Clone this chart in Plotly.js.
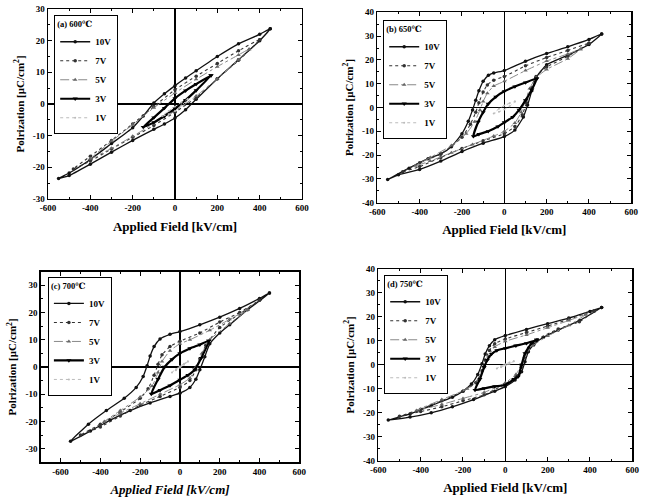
<!DOCTYPE html>
<html>
<head>
<meta charset="utf-8">
<script src="https://cdn.plot.ly/plotly-3.0.1.min.js"></script>
<style>html,body{margin:0;padding:0;background:#fff;}#chart{width:648px;height:501px;}</style>
</head>
<body>
<div id="chart"></div>
<script>
// ---------- tick labels ----------
const fieldTickVals = [-600, -400, -200, 0, 200, 400, 600];
const fieldTickText = ['-600', '-400', '-200', '0', '200', '400', '600'];
const pol30Vals = [-30, -20, -10, 0, 10, 20, 30];
const pol30Text = ['-30', '-20', '-10', '0', '10', '20', '30'];
const pol40Vals = [-40, -30, -20, -10, 0, 10, 20, 30, 40];
const pol40Text = ['-40', '-30', '-20', '-10', '0', '10', '20', '30', '40'];

const voltages = ['10V', '7V', '5V', '3V', '1V'];
const panelTitles = ['(a) 600℃', '(b) 650℃', '(c) 700℃', '(d) 750℃'];

// ---------- (a) 600 C : loop paths (field kV/cm, polarization uC/cm2) ----------
const a10E = [450,400,300,200,100,50,0,-50,-100,-150,-200,-300,-400,-500,-550,-500,-400,-300,-200,-100,-50,0,50,100,200,300,400,450];
const a10P = [23.8,22,19,15,10.5,8.2,5.8,3.2,0.3,-3.8,-7.5,-12.5,-17.5,-21.8,-23.5,-22.6,-19,-15.2,-11.5,-8,-6.3,-4.4,-1.8,1.5,8,14,20,23.8];
const a7E = [400,300,200,100,0,-100,-200,-300,-400,-480,-400,-300,-200,-100,0,100,200,300,400];
const a7P = [20.3,16.8,12.8,8.8,4.5,-0.8,-6.3,-11.5,-16.5,-20.5,-18,-14.2,-10.5,-6.8,-2.6,2,8,13.8,20.3];
const a5E = [350,300,200,100,0,-100,-200,-300,-400,-300,-200,-100,0,100,200,300,350];
const a5P = [17.3,15.5,11.8,7.8,3.5,-1.2,-6.5,-11.8,-17.3,-14,-10.2,-6.2,-2.2,2.5,8,14,17.3];
const a3E = [170,100,50,0,-50,-100,-150,-100,-50,0,50,100,170];
const a3P = [9,6.3,4.2,1.8,-1.3,-4.3,-7.3,-5.8,-3.8,-1.5,1.2,4.3,9];
const a1E = [60,30,0,-30,-60,-30,0,30,60];
const a1P = [1.5,0.5,-0.8,-2.2,-3.8,-3.2,-2.2,-0.5,1.5];

// ---------- (b) 650 C ----------
const b10E = [460,400,300,200,100,0,-50,-75,-100,-120,-135,-150,-170,-200,-250,-300,-360,-450,-551,-500,-400,-300,-200,-100,0,50,90,110,130,150,200,300,400,460];
const b10P = [30.9,28.6,25.5,22.7,19.4,15.5,14.5,13.5,11,7,3,-1,-5.8,-11,-16.5,-19.5,-21.5,-25.5,-30.3,-28.3,-26,-22.5,-18.5,-15,-12.2,-9.5,-4,1,7,12.5,18,22,26.5,30.9];
const b7E = [400,300,200,100,0,-50,-80,-100,-120,-135,-160,-200,-300,-400,-480,-400,-300,-200,-100,0,50,85,105,125,150,200,300,400];
const b7P = [27,24,21,17.5,13,11.5,9.5,6.5,2,-2,-7,-12.5,-19.5,-23.2,-27,-24.8,-21,-17.2,-14,-11,-8,-3,2,8,13,17,21.5,27];
const b5E = [360,300,200,100,0,-50,-80,-100,-115,-140,-180,-250,-350,-420,-350,-250,-150,-50,0,50,80,100,120,150,200,300,360];
const b5P = [24.5,22.5,19.5,15.5,11,9,6,2.5,-1,-6,-11,-16,-21,-24.5,-22.5,-19,-15.5,-12,-10,-6.5,-2,3,8,12.5,16,20.5,24.5];
const b3E = [153,100,50,0,-40,-76,-100,-123,-146,-120,-76,-30,0,40,70,100,130,153];
const b3P = [12.1,10.5,8.8,6.8,4.5,1.5,-2,-6,-12.1,-11.2,-10,-8,-6.3,-4,-1,3,7.5,12.1];
const b1E = [50,25,0,-25,-50,-25,0,25,50];
const b1P = [2.5,1.8,0.8,-0.5,-2.5,-1.8,-0.8,0.5,2.5];

// ---------- (c) 700 C ----------
const c10E = [450,400,300,200,100,0,-50,-100,-130,-150,-165,-185,-220,-280,-370,-460,-550,-450,-350,-250,-150,-50,0,50,80,100,125,150,200,250,340,450];
const c10P = [27.2,25.2,21.5,18.3,15.5,13,12,10.3,7.5,4,0.5,-3.5,-7.5,-11.5,-16,-21,-27.3,-23.5,-19.5,-16,-13.2,-10.8,-9.6,-7.5,-4.5,-1,3.8,8.5,12.5,15.5,21,27.2];
const c7E = [400,300,200,100,0,-50,-90,-110,-130,-160,-200,-300,-400,-500,-400,-300,-200,-100,0,50,80,100,130,200,300,400];
const c7P = [24.5,20,16.5,12.5,9.5,7.5,4.5,1,-3,-8,-11.5,-16.5,-21,-25,-22,-18,-14,-10.8,-7.5,-5,-1,3,8,14.5,19.5,24.5];
const c5E = [340,250,150,50,0,-50,-90,-110,-140,-200,-300,-380,-300,-200,-100,0,50,80,110,150,250,340];
const c5P = [21,17.5,13.5,10,8.5,6,2,-2,-7,-11,-16,-20,-17,-13.5,-10,-6.5,-4,0,5,10,16,21];
const c3E = [145,100,50,0,-40,-77,-110,-144,-100,-50,0,40,74,107,145];
const c3P = [9.6,8.2,6.8,5,2.8,0,-4.5,-9.9,-8.5,-6.8,-4.7,-3,-1,3.3,9.6];
const c1E = [40,20,0,-20,-40,-20,0,20,40];
const c1P = [2,1.2,0.3,-0.8,-2,-1.2,-0.3,0.8,2];

// ---------- (d) 750 C ----------
const d10E = [455,400,300,200,100,0,-50,-75,-95,-110,-130,-160,-200,-250,-350,-450,-553,-450,-350,-250,-150,-50,0,46,77,93,109,135,180,250,350,455];
const d10P = [23.9,22.3,19.5,17.2,14.8,12.2,10.5,8,4.5,0.5,-4,-8,-11,-13.5,-17,-20.5,-23,-21.8,-20,-17.5,-14.5,-11,-9.1,-6.3,-2.9,1.3,5.5,8.5,11.5,14.5,18.5,23.9];
const d7E = [420,300,200,100,0,-50,-75,-95,-110,-140,-200,-300,-400,-500,-400,-300,-200,-100,0,50,75,90,110,150,250,350,420];
const d7P = [22.5,19,16.2,13.5,10.8,8.8,6,2,-2.5,-7.5,-11,-15,-18.5,-21.5,-19.5,-17.5,-15,-12.5,-8,-5,-1,3,7,10.5,15,18,22.5];
const d5E = [380,300,200,100,0,-50,-80,-100,-130,-180,-300,-420,-300,-200,-100,0,50,75,95,130,200,300,380];
const d5P = [21,18.5,15.5,12.5,9.8,7.5,3.5,-1,-6.5,-10,-14.5,-19,-16.5,-14,-11.5,-7.5,-4,0,4,8,12,16.5,21];
const d3E = [148,100,50,0,-40,-65,-85,-100,-120,-143,-100,-50,0,40,61,77,93,124,148];
const d3P = [10.4,9,8,6.9,6,4.5,2,-1,-6,-10.5,-9.8,-9,-8.4,-6,-4.9,0,4.8,9,10.4];
const d1E = [40,20,0,-20,-40,-20,0,20,40];
const d1P = [1.5,1,0.3,-0.5,-1.5,-1,-0.3,0.5,1.5];

// ---------- assemble ----------
const panels = [
  {E: [a10E, a7E, a5E, a3E, a1E], P: [a10P, a7P, a5P, a3P, a1P]},
  {E: [b10E, b7E, b5E, b3E, b1E], P: [b10P, b7P, b5P, b3P, b1P]},
  {E: [c10E, c7E, c5E, c3E, c1E], P: [c10P, c7P, c5P, c3P, c1P]},
  {E: [d10E, d7E, d5E, d3E, d1E], P: [d10P, d7P, d5P, d3P, d1P]}
];

const FONT = '"Liberation Serif", "Times New Roman", "DejaVu Serif", serif';
const styles = [
  {line: {color: '#111', width: 1.3, dash: 'solid'}, marker: {symbol: 'circle', size: 3.5, color: '#111'}},
  {line: {color: '#333', width: 1.1, dash: 'dot'}, marker: {symbol: 'circle', size: 3.5, color: '#333'}},
  {line: {color: '#888', width: 1, dash: 'dashdot'}, marker: {symbol: 'triangle-up', size: 4, color: '#666'}},
  {line: {color: '#000', width: 2.2, dash: 'solid'}, marker: {symbol: 'triangle-down', size: 4.5, color: '#000'}},
  {line: {color: '#bbb', width: 1, dash: 'dot'}, marker: {symbol: 'circle', size: 2, color: '#bbb'}}
];

const traces = [];
panels.forEach((pn, i) => {
  const sfx = i === 0 ? '' : String(i + 1);
  voltages.forEach((v, k) => {
    traces.push({
      type: 'scatter', mode: 'lines+markers',
      x: pn.E[k], y: pn.P[k], name: v,
      xaxis: 'x' + sfx, yaxis: 'y' + sfx,
      legend: 'legend' + sfx,
      line: Object.assign({shape: 'spline', smoothing: 0.5}, styles[k].line),
      marker: styles[k].marker,
      hoverinfo: 'skip'
    });
  });
});

// domains (paper fractions) of the four frames
const W = 648, H = 501;
const frames = [
  {l: 48, r: 302, t: 9, b: 199, xr: [-600, 600], yr: [-30, 30], yv: pol30Vals, yt: pol30Text, leg: [54, 15], italic: false},
  {l: 377.3, r: 631.3, t: 12.3, b: 202.7, xr: [-600, 600], yr: [-40, 40], yv: pol40Vals, yt: pol40Text, leg: [383, 20], italic: false},
  {l: 40.7, r: 299.3, t: 271.7, b: 462.3, xr: [-700, 600], yr: [-35, 35], yv: pol30Vals, yt: pol30Text, leg: [47.7, 276.7], italic: true},
  {l: 378.3, r: 632.3, t: 269, b: 460.7, xr: [-600, 600], yr: [-40, 40], yv: pol40Vals, yt: pol40Text, leg: [384, 275], italic: false}
];

const layout = {
  width: W, height: H,
  margin: {l: 0, r: 0, t: 0, b: 0},
  paper_bgcolor: '#fff', plot_bgcolor: '#fff',
  font: {family: FONT, color: '#000', size: 9, weight: 'bold'},
  showlegend: true
};

frames.forEach((f, i) => {
  const sfx = i === 0 ? '' : String(i + 1);
  const ax = {
    domain: [f.l / W, f.r / W], range: f.xr, anchor: 'y' + sfx,
    tickmode: 'array', tickvals: fieldTickVals, ticktext: fieldTickText,
    ticks: 'inside', ticklen: 4, tickwidth: 1, tickcolor: '#000',
    minor: {ticks: 'inside', ticklen: 2, dtick: 100, tick0: 0, tickcolor: '#000', showgrid: false},
    showline: true, linecolor: '#000', linewidth: 1.4, mirror: 'allticks',
    showgrid: false, zeroline: true, zerolinecolor: '#000', zerolinewidth: 1.2,
    tickfont: {family: FONT, size: 9, weight: 'bold'},
    title: {text: 'Applied Field [kV/cm]', standoff: 9,
            font: {family: FONT, size: 13, weight: 'bold', style: f.italic ? 'italic' : 'normal'}}
  };
  const ay = {
    domain: [1 - f.b / H, 1 - f.t / H], range: f.yr, anchor: 'x' + sfx,
    tickmode: 'array', tickvals: f.yv, ticktext: f.yt,
    ticks: 'inside', ticklen: 4, tickwidth: 1, tickcolor: '#000',
    minor: {ticks: 'inside', ticklen: 2, dtick: 5, tick0: 0, tickcolor: '#000', showgrid: false},
    showline: true, linecolor: '#000', linewidth: 1.4, mirror: 'allticks',
    showgrid: false, zeroline: true, zerolinecolor: '#000', zerolinewidth: 1.2,
    tickfont: {family: FONT, size: 9, weight: 'bold'},
    title: {text: 'Polrization [μC/cm<sup>2</sup>]', standoff: 6,
            font: {family: FONT, size: 11, weight: 'bold'}}
  };
  layout['xaxis' + sfx] = ax;
  layout['yaxis' + sfx] = ay;
  layout['legend' + sfx] = {
    x: f.leg[0] / W, y: 1 - f.leg[1] / H, xanchor: 'left', yanchor: 'top',
    bgcolor: '#fff', bordercolor: '#000', borderwidth: 1.2,
    font: {family: FONT, size: 9, weight: 'bold'},
    itemwidth: 30, tracegroupgap: 0,
    title: {text: panelTitles[i], font: {family: FONT, size: 8.5, weight: 'bold'}}
  };
});

Plotly.newPlot('chart', traces, layout, {displayModeBar: false, staticPlot: true});
</script>
</body>
</html>
